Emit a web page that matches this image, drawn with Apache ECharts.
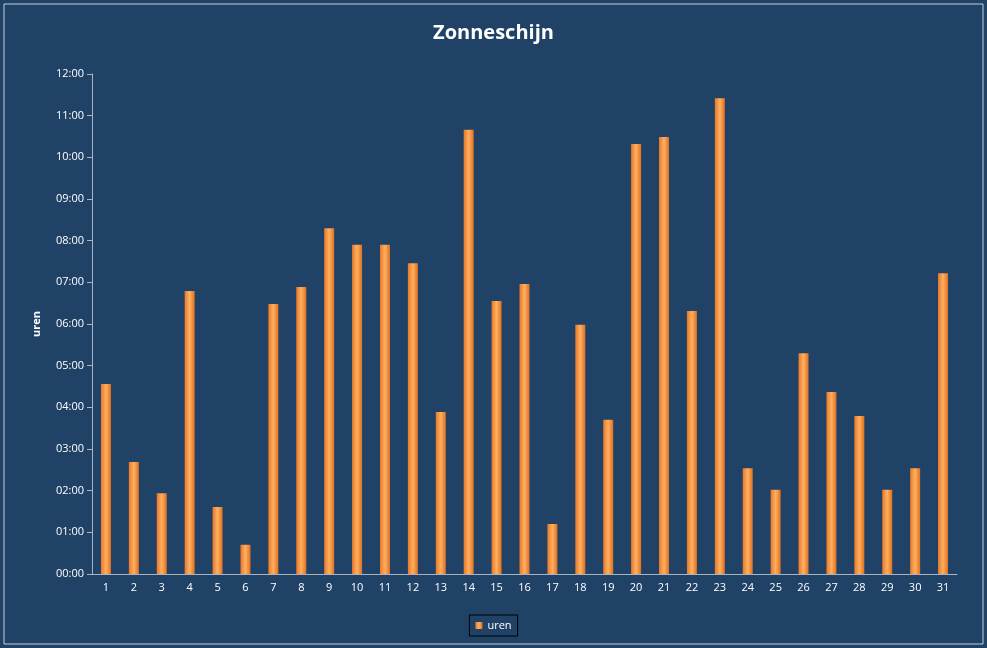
<!DOCTYPE html>
<html><head><meta charset="utf-8">
<script src="https://cdn.jsdelivr.net/npm/echarts@6/dist/echarts.min.js"></script>
<style>html,body{margin:0;padding:0;background:#fff}#c{width:987px;height:648px}</style>
</head><body><div id="c"></div>
<script>
const days = ['1','2','3','4','5','6','7','8','9','10','11','12','13','14','15','16','17','18','19','20','21','22','23','24','25','26','27','28','29','30','31'];
const uren = [4.56,2.69,1.94,6.79,1.61,0.70,6.48,6.89,8.30,7.90,7.90,7.46,3.89,10.66,6.55,6.96,1.20,5.98,3.70,10.32,10.49,6.31,11.42,2.54,2.02,5.30,4.37,3.79,2.02,2.54,7.22];
const chart = echarts.init(document.getElementById('c'));
const pad = n => (n<10?'0':'')+n;
chart.setOption({
  backgroundColor: '#1F4266',
  graphic: [{type:'rect', shape:{x:4,y:4,width:979,height:640}, style:{fill:'none', stroke:'#c8d0d8', lineWidth:1}}],
  title: {text:'Zonneschijn', left:'center', top:18, textStyle:{color:'#fff', fontSize:20, fontWeight:'bold', fontFamily:'Open Sans'}},
  legend: {bottom:12, left:'center', data:['uren'], itemWidth:7, itemHeight:7, icon:'rect',
    textStyle:{color:'#fff', fontSize:11, fontFamily:'Open Sans'}, borderColor:'#000', borderWidth:1, padding:[5,6]},
  grid: {left:92, right:30, top:74, bottom:74},
  xAxis: {type:'category', data:days, axisLine:{lineStyle:{color:'#aab4c0'}}, axisTick:{show:false},
    axisLabel:{color:'#fff', fontSize:11, fontFamily:'Open Sans'}},
  yAxis: {type:'value', min:0, max:12, interval:1, name:'uren', nameLocation:'middle', nameGap:50, nameRotate:90,
    nameTextStyle:{color:'#fff', fontSize:11, fontWeight:'bold', fontFamily:'Open Sans'},
    axisLine:{show:true, lineStyle:{color:'#aab4c0'}}, axisTick:{show:true, lineStyle:{color:'#aab4c0'}}, splitLine:{show:false},
    axisLabel:{color:'#fff', fontSize:11, fontFamily:'Open Sans', formatter:v=>pad(v)+':00'}},
  series: [{name:'uren', type:'bar', data:uren, barWidth:10,
    itemStyle:{color:new echarts.graphic.LinearGradient(0,0,1,0,[{offset:0,color:'#E8782A'},{offset:0.5,color:'#FFB060'},{offset:1,color:'#E07020'}])}}]
});
</script></body></html>
